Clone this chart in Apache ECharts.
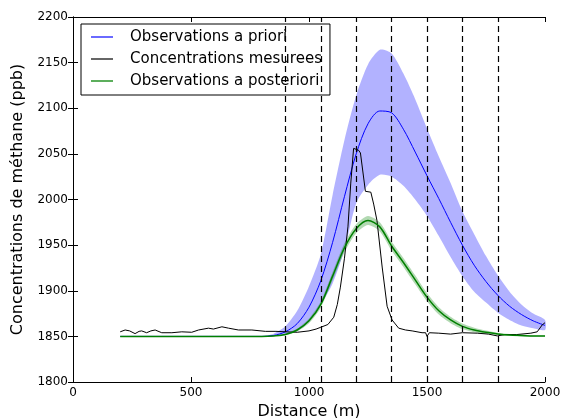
<!DOCTYPE html>
<html>
<head>
<meta charset="utf-8">
<script src="https://cdn.jsdelivr.net/npm/echarts@6/dist/echarts.min.js"></script>
<style>
html, body { margin: 0; padding: 0; background: #fff; }
#chart { width: 561px; height: 418px; }
</style>
</head>
<body>
<div id="chart"></div>
<script>
// model grid (m)
const distances = [200, 250, 300, 350, 400, 450, 500, 550, 600, 650, 700, 750, 800,
  850, 900, 950, 1000, 1050, 1100, 1150, 1200, 1250, 1300, 1350, 1400, 1450, 1500,
  1550, 1600, 1650, 1700, 1750, 1800, 1850, 1900, 1950, 2000]

// a priori (blue)
const priorMean = [1850, 1850, 1850, 1850, 1850, 1850, 1850, 1850, 1850, 1850, 1850, 1850, 1850,
  1851, 1855, 1864, 1882, 1911, 1953, 2003, 2050, 2083, 2097, 2095, 2077, 2052, 2026,
  2001, 1975, 1950, 1928, 1910, 1895, 1883, 1874, 1867, 1862]
const priorHigh = [1850, 1850, 1850, 1850, 1850, 1850, 1850, 1850, 1850, 1850, 1850, 1850, 1850,
  1853, 1861, 1878, 1905, 1940, 2005, 2065, 2114, 2148, 2164, 2160, 2138, 2110, 2078,
  2047, 2018, 1987, 1962, 1938, 1917, 1899, 1885, 1875, 1868]
const priorLow = [1850, 1850, 1850, 1850, 1850, 1850, 1850, 1850, 1850, 1850, 1850, 1850, 1850,
  1850.5, 1852, 1856, 1866, 1885, 1908, 1945, 1996, 2016, 2027, 2025, 2015, 2000, 1982,
  1960, 1937, 1916, 1899, 1887, 1876, 1868, 1862, 1859, 1857]

// a posteriori (green)
const postMean = [1850, 1850, 1850, 1850, 1850, 1850, 1850, 1850, 1850, 1850, 1850, 1850, 1850,
  1850.5, 1852, 1857, 1867, 1885, 1916, 1947, 1968, 1977, 1970, 1949, 1931, 1912, 1893,
  1878, 1868, 1861, 1857, 1854.5, 1852.7, 1851.5, 1851, 1850.5, 1850.5]
const postHigh = [1850, 1850, 1850, 1850, 1850, 1850, 1850, 1850, 1850, 1850, 1850, 1850, 1850,
  1851, 1853, 1858.5, 1869.5, 1888.5, 1920.5, 1952, 1973, 1982, 1975, 1954, 1936, 1917, 1897.5,
  1882, 1871.5, 1864, 1859.5, 1856.5, 1854, 1852.5, 1852, 1851, 1851]
const postLow = [1850, 1850, 1850, 1850, 1850, 1850, 1850, 1850, 1850, 1850, 1850, 1850, 1850,
  1850, 1851, 1855.5, 1864.5, 1881.5, 1911.5, 1942, 1963, 1972, 1965, 1944, 1926, 1907, 1888.5,
  1874, 1864.5, 1858, 1854.5, 1852.5, 1851.5, 1850.5, 1850, 1850, 1850]

// measured concentrations (black)
const measuredDist = [200, 221, 240, 263, 280, 291, 312, 330, 348, 376, 419, 461, 503, 532, 574,
  595, 631, 659, 701, 758, 815, 860, 900, 950, 1000, 1030, 1050, 1080, 1105, 1120, 1133, 1150,
  1165, 1177, 1189, 1210, 1218, 1239, 1262, 1274, 1288, 1310, 1331, 1352, 1380, 1409, 1437,
  1479, 1494, 1500, 1510, 1550, 1600, 1650, 1713, 1760, 1798, 1830, 1880, 1940, 1967, 1988, 2000]
const measuredConc = [1855, 1857, 1856, 1853, 1855.5, 1856, 1854, 1856, 1857, 1854, 1854, 1855,
  1854.5, 1857, 1859, 1858, 1860.5, 1859, 1857, 1857, 1855.5, 1855.5, 1855, 1854.5, 1856, 1858,
  1860, 1863, 1871, 1885, 1904, 1935, 1970, 2018, 2056, 2054, 2051, 2009, 2008, 1995, 1977,
  1926, 1883, 1868, 1859, 1857, 1856, 1854, 1854, 1850, 1854, 1853.5, 1852.5, 1854, 1853.5,
  1852.5, 1850.5, 1852, 1852, 1853.5, 1855, 1862.5, 1865]

// dashed vertical markers
const dashedAt = [900, 1050, 1200, 1350, 1500, 1650, 1800]

const pairs = (xs, ys) => xs.map((x, i) => [x, ys[i]])

// shaded uncertainty band drawn as one polygon through the axis scales
function band(hi, lo, color) {
  return {
    type: 'custom',
    silent: true,
    data: [[distances[0], lo[0]]],
    renderItem: (params, api) => {
      const top = distances.map((x, i) => api.coord([x, hi[i]]))
      const bottom = distances.map((x, i) => api.coord([x, lo[i]])).reverse()
      return {
        type: 'polygon',
        shape: { points: top.concat(bottom), smooth: 0.25 },
        style: { fill: color }
      }
    }
  }
}

const font = 'DejaVu Sans'
const axisBase = {
  axisLine: { lineStyle: { color: '#000', width: 1 } },
  axisTick: { inside: true, length: 5, lineStyle: { color: '#000' } },
  splitLine: { show: false }
}
const plain = v => String(v)

const chart = echarts.init(document.getElementById('chart'))
chart.setOption({
  animation: false,
  textStyle: { fontFamily: font },
  grid: { left: 73, right: 16, top: 17, bottom: 36, containLabel: false, outerBoundsMode: 'none' },
  legend: {
    left: 81,
    top: 24,
    orient: 'vertical',
    backgroundColor: '#fff',
    borderColor: '#000',
    borderWidth: 1,
    borderRadius: 0,
    padding: [4, 8, 5, 10],
    itemGap: 4,
    itemWidth: 22,
    itemHeight: 2,
    icon: 'rect',
    textStyle: { fontFamily: font, fontSize: 15, color: '#000', lineHeight: 18, padding: [0, 0, 0, 12] },
    data: [
      { name: 'Observations a priori', itemStyle: { color: '#6a6aff' } },
      { name: 'Concentrations mesurees', itemStyle: { color: '#666' } },
      { name: 'Observations a posteriori', itemStyle: { color: '#5cae5c' } }
    ]
  },
  xAxis: [
    Object.assign({
      type: 'value', min: 0, max: 2000, interval: 500,
      name: 'Distance (m)', nameLocation: 'middle', nameGap: 17,
      nameTextStyle: { fontFamily: font, fontSize: 16, color: '#000' },
      axisLabel: { fontFamily: font, fontSize: 12, color: '#000', margin: 5, formatter: plain }
    }, axisBase),
    Object.assign({
      type: 'value', min: 0, max: 2000, interval: 500, position: 'top',
      axisLabel: { show: false }
    }, axisBase)
  ],
  yAxis: [
    Object.assign({
      type: 'value', min: 1800, max: 2200, interval: 50,
      name: 'Concentrations de méthane (ppb)', nameLocation: 'middle', nameGap: 47,
      nameTextStyle: { fontFamily: font, fontSize: 16, color: '#000' },
      axisLabel: { fontFamily: font, fontSize: 12, color: '#000', margin: 5, formatter: plain }
    }, axisBase),
    Object.assign({
      type: 'value', min: 1800, max: 2200, interval: 50, position: 'right',
      axisLabel: { show: false }
    }, axisBase)
  ],
  series: [
    band(priorHigh, priorLow, 'rgba(0,0,255,0.3)'),
    {
      name: 'Observations a priori', type: 'line', symbol: 'none', smooth: 0.3,
      color: '#0000ff', lineStyle: { color: '#0000ff', width: 1 },
      data: pairs(distances, priorMean)
    },
    {
      name: 'Concentrations mesurees', type: 'line', symbol: 'none',
      color: '#000', lineStyle: { color: '#000', width: 1 },
      data: pairs(measuredDist, measuredConc)
    },
    band(postHigh, postLow, 'rgba(0,128,0,0.3)'),
    {
      name: 'Observations a posteriori', type: 'line', symbol: 'none', smooth: 0.3,
      color: '#008000', lineStyle: { color: '#008000', width: 1.5 },
      data: pairs(distances, postMean),
      markLine: {
        silent: true,
        symbol: 'none',
        label: { show: false },
        lineStyle: { color: '#000', width: 1.2, type: [6, 4] },
        data: dashedAt.map(x => ({ xAxis: x }))
      }
    }
  ]
})
</script>
</body>
</html>
